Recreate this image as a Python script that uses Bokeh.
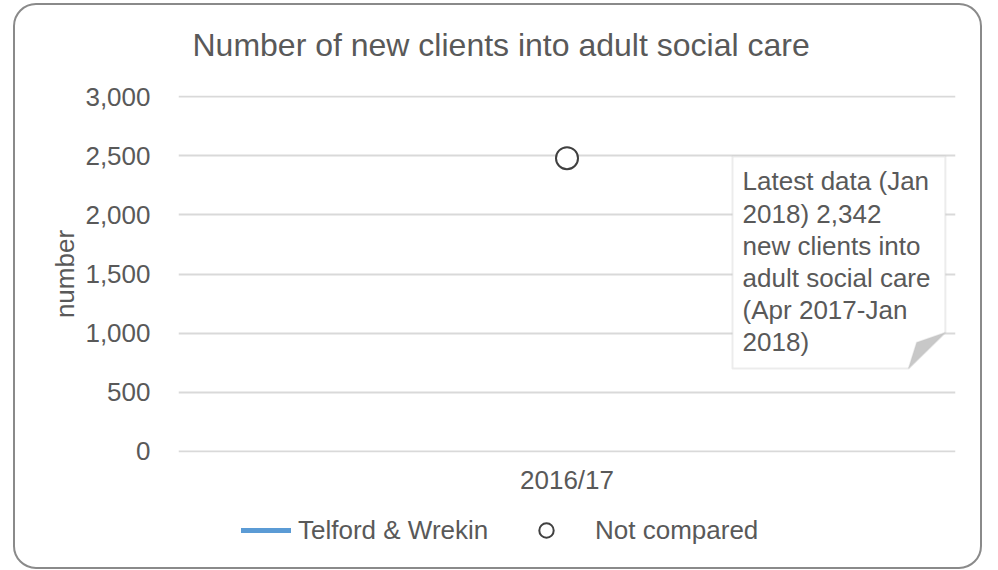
from bokeh.plotting import figure
from bokeh.layouts import column
from bokeh.models import (Range1d, FixedTicker, NumeralTickFormatter, Legend, LegendItem,
                          PolyAnnotation, Label)
from bokeh.embed import file_html
from bokeh.resources import INLINE

# ---- data ----
categories = ["2016/17"]
telford_values = [2480]
y_ticks = [0, 500, 1000, 1500, 2000, 2500, 3000]
title_text = "Number of new clients into adult social care"
y_axis_label = "number"
series_label = "Telford & Wrekin"
marker_label = "Not compared"
note_text = "Latest data (Jan\n2018) 2,342\nnew clients into\nadult social care\n(Apr 2017-Jan\n2018)"

FONT = "Liberation Sans"
TXT = "#595959"
LINE_C = "#5b9bd5"
MARK_C = "#404040"

x_pos = [i + 0.5 for i in range(len(categories))]

W = 965


def strip(height):
    f = figure(width=W, height=height, x_range=Range1d(0, 1), y_range=Range1d(0, 1),
               x_axis_type=None, y_axis_type=None, output_backend="svg", toolbar_location=None,
               min_border=0)
    f.border_fill_alpha = 0
    f.background_fill_alpha = 0
    f.outline_line_color = None
    f.grid.visible = False
    return f


# title strip
tt = strip(70)
tt.add_layout(Label(x=0.018, y=0.43, text=title_text, text_font=FONT, text_font_size="32px",
                    text_color=TXT, text_baseline="middle", text_align="left"))

# main chart
p = figure(width=W, height=427, x_range=Range1d(0, len(categories)), y_range=Range1d(-10, 3010),
           output_backend="svg", toolbar_location=None,
           min_border_left=163, min_border_right=25, min_border_top=20, min_border_bottom=50)
p.border_fill_alpha = 0
p.background_fill_color = "white"
p.outline_line_color = None

# axes
p.xaxis.ticker = FixedTicker(ticks=x_pos)
p.xaxis.major_label_overrides = {x: c for x, c in zip(x_pos, categories)}
p.yaxis.ticker = FixedTicker(ticks=y_ticks)
p.yaxis.formatter = NumeralTickFormatter(format="0,0")
for ax in (p.xaxis, p.yaxis):
    ax.axis_line_color = None
    ax.major_tick_line_color = None
    ax.minor_tick_line_color = None
    ax.major_tick_out = 0
    ax.major_tick_in = 0
    ax.minor_tick_out = 0
    ax.minor_tick_in = 0
    ax.major_label_text_font = FONT
    ax.major_label_text_font_size = "26px"
    ax.major_label_text_color = TXT
p.yaxis.major_label_standoff = 28
p.xaxis.major_label_standoff = 12
p.yaxis.axis_label = y_axis_label
p.yaxis.axis_label_text_font = FONT
p.yaxis.axis_label_text_font_size = "26px"
p.yaxis.axis_label_text_font_style = "normal"
p.yaxis.axis_label_text_color = TXT
p.yaxis.axis_label_standoff = 2

p.xgrid.grid_line_color = None
p.ygrid.grid_line_color = "#d9d9d9"
p.ygrid.grid_line_width = 2

# series
p.line(x_pos, telford_values, line_color=LINE_C, line_width=5, line_cap="round")
p.scatter(x_pos, telford_values, marker="circle", size=22, fill_color="white",
          line_color=MARK_C, line_width=2)

# note callout
bx0, bx1, by0, by1 = 0.713, 0.987, 701, 2493
fold_x, fold_y = 0.9395, 1006
p.add_layout(PolyAnnotation(xs=[bx0, bx1, bx1, fold_x, bx0], ys=[by1, by1, fold_y, by0, by0],
                            fill_color="white", fill_alpha=1, line_color="#bfbfbf", line_width=2,
                            level="overlay"))
p.add_layout(PolyAnnotation(xs=[bx1, 0.950, fold_x], ys=[fold_y, 921, by0],
                            fill_color="#c8c8c8", fill_alpha=1, line_color="#bfbfbf", line_width=1.5,
                            level="overlay"))
p.add_layout(Label(x=0.726, y=2410, text=note_text, text_font=FONT, text_font_size="26px",
                   text_color=TXT, text_baseline="top", text_align="left", text_line_height=1.07,
                   level="overlay"))

# legend strip (its own small figure; the series are drawn outside its view)
lg = strip(65)
lg.x_range = Range1d(0, len(categories))
l_line = lg.line(x_pos, telford_values, line_color=LINE_C, line_width=5, line_cap="round")
l_pt = lg.scatter(x_pos, telford_values, marker="circle", size=14, fill_color="white",
                  line_color=MARK_C, line_width=2)

common = dict(orientation="horizontal", padding=0, margin=0, border_line_color=None,
              background_fill_alpha=0, label_text_font=FONT, label_text_font_size="26px",
              label_text_color=TXT, glyph_height=36, label_height=30)
leg1 = Legend(items=[LegendItem(label=series_label, renderers=[l_line])], location=(63, 19),
              glyph_width=50, label_standoff=7, **common)
leg2 = Legend(items=[LegendItem(label=marker_label, renderers=[l_pt])], location=(350, 19),
              glyph_width=36, label_standoff=31, **common)
lg.add_layout(leg1)
lg.add_layout(leg2)

page = column(tt, p, lg, spacing=0)
page.styles = {"margin-left": "13px", "margin-top": "3px", "border": "2px solid #8a8a8a",
               "border-radius": "23px", "overflow": "hidden", "box-sizing": "content-box",
               "width": f"{W}px"}

open("out.html", "w").write(file_html(page, INLINE))
